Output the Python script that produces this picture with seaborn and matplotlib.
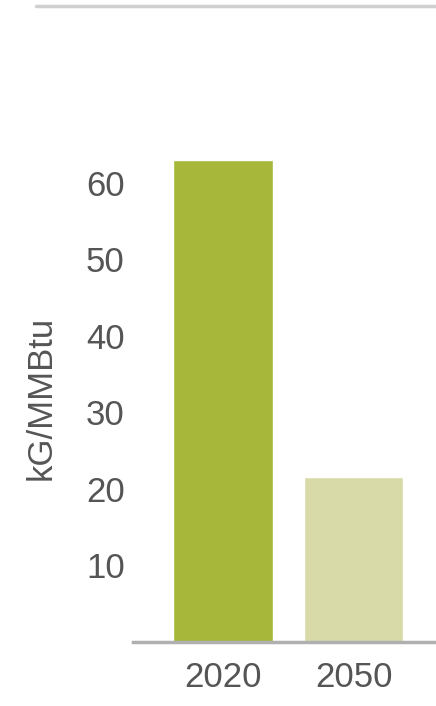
import matplotlib
matplotlib.use("Agg")
import matplotlib.pyplot as plt
import seaborn as sns
import pandas as pd
from matplotlib.lines import Line2D

years = ["2020", "2050"]
values = [63.0, 21.5]
bar_colors = ["#a6b739", "#d8dba7"]
yticks = [10, 20, 30, 40, 50, 60]

df = pd.DataFrame({"year": years, "value": values})

sns.set_style("white")
plt.rcParams["font.family"] = ["Liberation Sans", "DejaVu Sans"]

fig = plt.figure(figsize=(4.36, 7.06), dpi=100)
ax = fig.add_axes([133 / 436, 64 / 706, 303 / 436, 536 / 706])

sns.barplot(data=df, x="year", y="value", hue="year", palette=bar_colors,
            width=0.76, legend=False, ax=ax, saturation=1)

ax.set_ylim(0, 70)
ax.set_xlim(-0.69, 1.632)
ax.set_yticks(yticks)
ax.set_yticklabels([str(t) for t in yticks])

# only the baseline stays
for side in ["top", "right", "left"]:
    ax.spines[side].set_visible(False)
ax.spines["bottom"].set_color("#b0b0b0")
ax.spines["bottom"].set_linewidth(2.5)

ax.tick_params(axis="y", length=0, pad=6, labelsize=25, labelcolor="#555555")
ax.tick_params(axis="x", length=0, pad=14, labelsize=25, labelcolor="#555555")

ax.set_xlabel("")
ax.set_ylabel("kG/MMBtu", fontsize=25, color="#555555")
ax.yaxis.set_label_coords(-0.25, 0.455)

# gray rule at the top of the panel
fig.add_artist(Line2D([36 / 436, 1.0], [1 - 6 / 706, 1 - 6 / 706],
                      color="#d0d0d0", linewidth=2.5))

fig.savefig("out.png", dpi=100)
